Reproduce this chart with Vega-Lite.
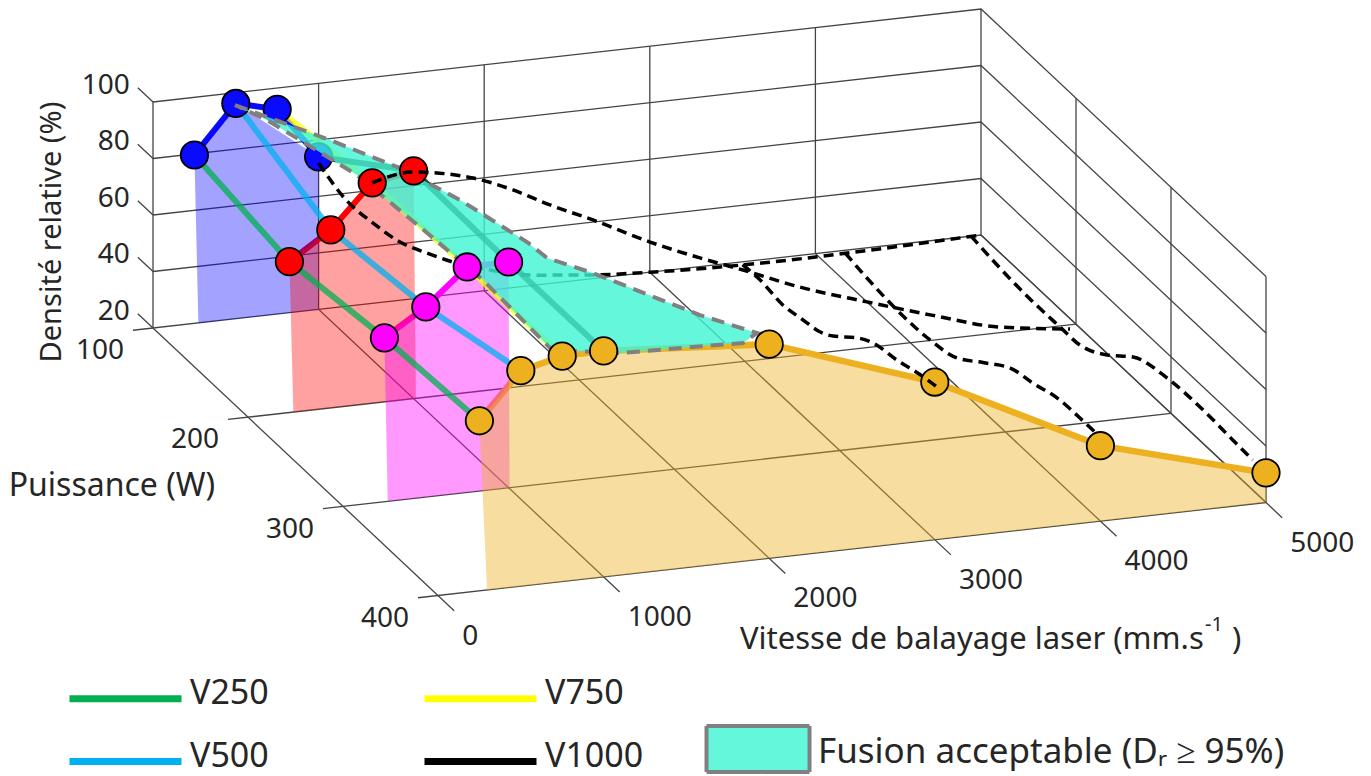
{"$schema":"https://vega.github.io/schema/vega-lite/v6.json","width":1371,"height":776,"autosize":"none","padding":0,"background":"white",
"data":{"values":[
{"g":"grille","s":"z20","V":-121,"P":100,"D":20},{"g":"grille","s":"z20","V":5000,"P":100,"D":20},{"g":"grille","s":"z20","V":5000,"P":400,"D":20},
{"g":"grille","s":"z40","V":0,"P":100,"D":40},{"g":"grille","s":"z40","V":5000,"P":100,"D":40},{"g":"grille","s":"z40","V":5000,"P":400,"D":40},
{"g":"grille","s":"z60","V":0,"P":100,"D":60},{"g":"grille","s":"z60","V":5000,"P":100,"D":60},{"g":"grille","s":"z60","V":5000,"P":400,"D":60},
{"g":"grille","s":"z80","V":0,"P":100,"D":80},{"g":"grille","s":"z80","V":5000,"P":100,"D":80},{"g":"grille","s":"z80","V":5000,"P":400,"D":80},
{"g":"grille","s":"z100","V":0,"P":100,"D":100},{"g":"grille","s":"z100","V":5000,"P":100,"D":100},{"g":"grille","s":"z100","V":5000,"P":400,"D":100},
{"g":"grille","s":"t40","V":0,"P":84,"D":40},{"g":"grille","s":"t40","V":0,"P":100,"D":40},
{"g":"grille","s":"t60","V":0,"P":84,"D":60},{"g":"grille","s":"t60","V":0,"P":100,"D":60},
{"g":"grille","s":"t80","V":0,"P":84,"D":80},{"g":"grille","s":"t80","V":0,"P":100,"D":80},
{"g":"grille","s":"t100","V":0,"P":84,"D":100},{"g":"grille","s":"t100","V":0,"P":100,"D":100},
{"g":"grille","s":"a0","V":0,"P":100,"D":20},{"g":"grille","s":"a0","V":0,"P":100,"D":100},
{"g":"grille","s":"a1","V":1000,"P":100,"D":20},{"g":"grille","s":"a1","V":1000,"P":100,"D":100},
{"g":"grille","s":"a2","V":2000,"P":100,"D":20},{"g":"grille","s":"a2","V":2000,"P":100,"D":100},
{"g":"grille","s":"a3","V":3000,"P":100,"D":20},{"g":"grille","s":"a3","V":3000,"P":100,"D":100},
{"g":"grille","s":"a4","V":4000,"P":100,"D":20},{"g":"grille","s":"a4","V":4000,"P":100,"D":100},
{"g":"grille","s":"a5","V":5000,"P":100,"D":20},{"g":"grille","s":"a5","V":5000,"P":100,"D":100},
{"g":"grille","s":"b2","V":5000,"P":200,"D":20},{"g":"grille","s":"b2","V":5000,"P":200,"D":100},
{"g":"grille","s":"b3","V":5000,"P":300,"D":20},{"g":"grille","s":"b3","V":5000,"P":300,"D":100},
{"g":"grille","s":"b4","V":5000,"P":400,"D":20},{"g":"grille","s":"b4","V":5000,"P":400,"D":100},
{"g":"grille","s":"f0","V":0,"P":84,"D":20},{"g":"grille","s":"f0","V":0,"P":417,"D":20},
{"g":"grille","s":"f1","V":1000,"P":100,"D":20},{"g":"grille","s":"f1","V":1000,"P":417,"D":20},
{"g":"grille","s":"f2","V":2000,"P":100,"D":20},{"g":"grille","s":"f2","V":2000,"P":417,"D":20},
{"g":"grille","s":"f3","V":3000,"P":100,"D":20},{"g":"grille","s":"f3","V":3000,"P":417,"D":20},
{"g":"grille","s":"f4","V":4000,"P":100,"D":20},{"g":"grille","s":"f4","V":4000,"P":417,"D":20},
{"g":"grille","s":"f5","V":5000,"P":100,"D":20},{"g":"grille","s":"f5","V":5000,"P":417,"D":20},
{"g":"grille","s":"p2","V":-121,"P":200,"D":20},{"g":"grille","s":"p2","V":5000,"P":200,"D":20},
{"g":"grille","s":"p3","V":-121,"P":300,"D":20},{"g":"grille","s":"p3","V":5000,"P":300,"D":20},
{"g":"grille","s":"p4","V":-121,"P":400,"D":20},{"g":"grille","s":"p4","V":5000,"P":400,"D":20},

{"g":"mesure","vit":"V250","V":250,"P":100,"D":79.6},{"g":"mesure","vit":"V500","V":500,"P":100,"D":96.2},{"g":"mesure","vit":"V750","V":750,"P":100,"D":92.5},{"g":"mesure","vit":"V1000","V":1000,"P":100,"D":74},
{"g":"mesure","vit":"V250","V":250,"P":200,"D":73.4},{"g":"mesure","vit":"V500","V":500,"P":200,"D":83},{"g":"mesure","vit":"V750","V":750,"P":200,"D":98},{"g":"mesure","vit":"V1000","V":1000,"P":200,"D":100.6},
{"g":"mesure","vit":"V250","V":250,"P":300,"D":78},{"g":"mesure","vit":"V500","V":500,"P":300,"D":87.3},{"g":"mesure","vit":"V750","V":750,"P":300,"D":99.8},{"g":"mesure","vit":"V1000","V":1000,"P":300,"D":99.9},
{"g":"mesure","vit":"V250","V":250,"P":400,"D":80.2},{"g":"mesure","vit":"V500","V":500,"P":400,"D":96.3},{"g":"mesure","vit":"V750","V":750,"P":400,"D":99.8},{"g":"mesure","vit":"V1000","V":1000,"P":400,"D":100},
{"g":"mesure","V":2000,"P":400,"D":95.8},{"g":"mesure","V":3000,"P":400,"D":75.8},{"g":"mesure","V":4000,"P":400,"D":46.7},{"g":"mesure","V":5000,"P":400,"D":30.5},

{"g":"zb","i":1,"V":250,"P":100,"D":79.6},{"g":"zb","i":2,"V":500,"P":100,"D":96.2},{"g":"zb","i":3,"V":1000,"P":100,"D":74},{"g":"zb","i":4,"V":1000,"P":100,"D":20},{"g":"zb","i":5,"V":274,"P":100,"D":20},{"g":"zb","i":6,"V":250,"P":100,"D":79.6},
{"g":"zr","i":1,"V":250,"P":200,"D":73.4},{"g":"zr","i":2,"V":500,"P":200,"D":83},{"g":"zr","i":3,"V":750,"P":200,"D":98},{"g":"zr","i":4,"V":1000,"P":200,"D":100.6},{"g":"zr","i":5,"V":1014,"P":200,"D":20},{"g":"zr","i":6,"V":274,"P":200,"D":20},{"g":"zr","i":7,"V":250,"P":200,"D":73.4},
{"g":"zm","i":1,"V":250,"P":300,"D":78},{"g":"zm","i":2,"V":500,"P":300,"D":87.3},{"g":"zm","i":3,"V":750,"P":300,"D":99.8},{"g":"zm","i":4,"V":1000,"P":300,"D":99.9},{"g":"zm","i":5,"V":1006,"P":300,"D":20},{"g":"zm","i":6,"V":270,"P":300,"D":20},{"g":"zm","i":7,"V":250,"P":300,"D":78},
{"g":"zo","i":1,"V":250,"P":400,"D":80.2},{"g":"zo","i":2,"V":500,"P":400,"D":96.3},{"g":"zo","i":3,"V":750,"P":400,"D":99.8},{"g":"zo","i":4,"V":1000,"P":400,"D":100},{"g":"zo","i":5,"V":2000,"P":400,"D":95.8},{"g":"zo","i":6,"V":3000,"P":400,"D":75.8},{"g":"zo","i":7,"V":4000,"P":400,"D":46.7},{"g":"zo","i":8,"V":5000,"P":400,"D":30.5},{"g":"zo","i":9,"V":5000,"P":400,"D":20},{"g":"zo","i":10,"V":296,"P":400,"D":20},{"g":"zo","i":11,"V":250,"P":400,"D":80.2},

{"g":"fusion","i":1,"V":506,"P":98.1,"D":95},{"g":"fusion","i":2,"V":817,"P":143.9,"D":95},{"g":"fusion","i":3,"V":1034,"P":179.8,"D":95},{"g":"fusion","i":4,"V":1174,"P":218.6,"D":95},{"g":"fusion","i":5,"V":1294,"P":268.2,"D":95},{"g":"fusion","i":6,"V":1310,"P":286.5,"D":95},{"g":"fusion","i":7,"V":1471,"P":306.7,"D":95},{"g":"fusion","i":8,"V":1807,"P":360.8,"D":95},{"g":"fusion","i":9,"V":2011,"P":385.2,"D":95},{"g":"fusion","i":10,"V":1878,"P":393.6,"D":95},{"g":"fusion","i":11,"V":1157,"P":389.8,"D":95},{"g":"fusion","i":12,"V":808,"P":379.2,"D":95},{"g":"fusion","i":13,"V":838,"P":301.3,"D":95},{"g":"fusion","i":14,"V":803,"P":241.1,"D":95},{"g":"fusion","i":15,"V":762,"P":181.9,"D":95},{"g":"fusion","i":16,"V":655,"P":140.5,"D":95},{"g":"fusion","i":17,"V":592,"P":116.7,"D":95},{"g":"fusion","i":18,"V":506,"P":98.1,"D":95},

{"g":"p100","V":1000,"P":100,"D":71.8},{"g":"p100","V":1171,"P":100,"D":57.3},{"g":"p100","V":1329,"P":100,"D":48.4},{"g":"p100","V":1492,"P":100,"D":40.6},{"g":"p100","V":1655,"P":100,"D":35.6},{"g":"p100","V":1812,"P":100,"D":31.4},{"g":"p100","V":2035,"P":100,"D":27.1},{"g":"p100","V":2295,"P":100,"D":23.6},{"g":"p100","V":2657,"P":100,"D":21.3},{"g":"p100","V":3000,"P":100,"D":20},{"g":"p100","V":5000,"P":100,"D":20},

{"g":"tirets","s":"p200","V":750,"P":200,"D":98},{"g":"tirets","s":"p200","V":1000,"P":200,"D":100.2},{"g":"tirets","s":"p200","V":1359,"P":200,"D":95.7},{"g":"tirets","s":"p200","V":1600,"P":200,"D":89.9},{"g":"tirets","s":"p200","V":1824,"P":200,"D":83.1},{"g":"tirets","s":"p200","V":2083,"P":200,"D":76.1},{"g":"tirets","s":"p200","V":2428,"P":200,"D":66},{"g":"tirets","s":"p200","V":2729,"P":200,"D":58.4},{"g":"tirets","s":"p200","V":2989,"P":200,"D":52.4},{"g":"tirets","s":"p200","V":3333,"P":200,"D":44.1},{"g":"tirets","s":"p200","V":3738,"P":200,"D":36.2},{"g":"tirets","s":"p200","V":4136,"P":200,"D":28.8},{"g":"tirets","s":"p200","V":4541,"P":200,"D":22},{"g":"tirets","s":"p200","V":4964,"P":200,"D":18.5},

{"g":"tirets","s":"v3000","V":3560,"P":100,"D":19},{"g":"tirets","s":"v3000","V":3000,"P":216,"D":53.9},{"g":"tirets","s":"v3000","V":3000,"P":240,"D":52.6},{"g":"tirets","s":"v3000","V":3000,"P":261,"D":54},{"g":"tirets","s":"v3000","V":3000,"P":279,"D":55.4},{"g":"tirets","s":"v3000","V":3000,"P":293,"D":58.3},{"g":"tirets","s":"v3000","V":3000,"P":318,"D":65.6},{"g":"tirets","s":"v3000","V":3000,"P":335,"D":69.1},{"g":"tirets","s":"v3000","V":3000,"P":360,"D":71},{"g":"tirets","s":"v3000","V":3000,"P":384,"D":73.5},{"g":"tirets","s":"v3000","V":3000,"P":402,"D":74.8},

{"g":"tirets","s":"v4000","V":4180,"P":100,"D":19},{"g":"tirets","s":"v4000","V":4000,"P":154,"D":28.5},{"g":"tirets","s":"v4000","V":4000,"P":189,"D":27.1},{"g":"tirets","s":"v4000","V":4000,"P":220.6,"D":27.5},{"g":"tirets","s":"v4000","V":4000,"P":249,"D":30.1},{"g":"tirets","s":"v4000","V":4000,"P":276.4,"D":37.1},{"g":"tirets","s":"v4000","V":4000,"P":305,"D":44.2},{"g":"tirets","s":"v4000","V":4000,"P":329,"D":46.4},{"g":"tirets","s":"v4000","V":4000,"P":354,"D":49.2},{"g":"tirets","s":"v4000","V":4000,"P":378.5,"D":49.7},{"g":"tirets","s":"v4000","V":4000,"P":394.4,"D":49.7},

{"g":"tirets","s":"v5000","V":4940,"P":100,"D":20},{"g":"tirets","s":"v5000","V":5000,"P":120,"D":14.6},{"g":"tirets","s":"v5000","V":5000,"P":154.7,"D":13.6},{"g":"tirets","s":"v5000","V":5000,"P":183,"D":13.7},{"g":"tirets","s":"v5000","V":5000,"P":204,"D":13.9},{"g":"tirets","s":"v5000","V":5000,"P":232.6,"D":19.4},{"g":"tirets","s":"v5000","V":5000,"P":260,"D":27.3},{"g":"tirets","s":"v5000","V":5000,"P":296,"D":31.2},{"g":"tirets","s":"v5000","V":5000,"P":330,"D":31.9},{"g":"tirets","s":"v5000","V":5000,"P":365,"D":31.1},{"g":"tirets","s":"v5000","V":5000,"P":386,"D":30.6},

{"g":"tz","lab":"20","V":0,"P":84,"D":20},{"g":"tz","lab":"40","V":0,"P":84,"D":40},{"g":"tz","lab":"60","V":0,"P":84,"D":60},{"g":"tz","lab":"80","V":0,"P":84,"D":80},{"g":"tz","lab":"100","V":0,"P":84,"D":100},
{"g":"tp","lab":"100","V":-121,"P":100,"D":20},{"g":"tp","lab":"200","V":-121,"P":200,"D":20},{"g":"tp","lab":"300","V":-121,"P":300,"D":20},{"g":"tp","lab":"400","V":-121,"P":400,"D":20},
{"g":"tv","lab":"0","V":0,"P":417,"D":20},{"g":"tv","lab":"1000","V":1000,"P":417,"D":20},{"g":"tv","lab":"2000","V":2000,"P":417,"D":20},{"g":"tv","lab":"3000","V":3000,"P":417,"D":20},{"g":"tv","lab":"4000","V":4000,"P":417,"D":20},{"g":"tv","lab":"5000","V":5000,"P":417,"D":20},
{"g":"titreP","lab":"Puissance (W)","V":-1129,"P":253.6,"D":20},
{"g":"titreV","lab":"Vitesse de balayage laser (mm.s","V":1373,"P":478.5,"D":20},
{"g":"titreV","lab":")","V":4027,"P":533.9,"D":20},
{"g":"titreS","lab":"-1","V":3967,"P":515.8,"D":20},
{"g":"titreD","lab":"Densité relative (%)","V":7,"P":-7.5,"D":20}
]},
"transform":[
{"calculate":"153+828*datum.V/5000+285*(datum.P-100)/300","as":"px"},
{"calculate":"328-93*datum.V/5000+267.5*(datum.P-100)/300-2.825*(datum.D-20)","as":"py"}
],
"encoding":{
"x":{"field":"px","type":"quantitative","scale":{"domain":[0,1371],"nice":false,"zero":false},"axis":null},
"y":{"field":"py","type":"quantitative","scale":{"domain":[0,776],"reverse":true,"nice":false,"zero":false},"axis":null}
},
"layer":[
{"transform":[{"filter":"datum.g=='grille'"}],"mark":{"type":"line","stroke":"#444444","strokeWidth":1.3},"encoding":{"detail":{"field":"s"}}},
{"transform":[{"filter":"datum.g=='mesure' && datum.P==100"}],"mark":{"type":"line","strokeWidth":6,"stroke":"#0A0AFF"}},
{"transform":[{"filter":"datum.g=='mesure' && datum.P==200"}],"mark":{"type":"line","strokeWidth":6,"stroke":"#FF0000"}},
{"transform":[{"filter":"datum.g=='mesure' && datum.P==300"}],"mark":{"type":"line","strokeWidth":6,"stroke":"#FF00FF"}},
{"transform":[{"filter":"datum.g=='mesure' && datum.P==400"}],"mark":{"type":"line","strokeWidth":6.5,"stroke":"#EDB120"}},
{"transform":[{"filter":"datum.g=='zb'"}],"mark":{"type":"line","fill":"#0000FF","fillOpacity":0.36,"stroke":"#0000FF","strokeOpacity":0},"encoding":{"order":{"field":"i"}}},
{"transform":[{"filter":"datum.g=='zr'"}],"mark":{"type":"line","fill":"#FF0000","fillOpacity":0.37,"stroke":"#FF0000","strokeOpacity":0},"encoding":{"order":{"field":"i"}}},
{"transform":[{"filter":"datum.g=='zm'"}],"mark":{"type":"line","fill":"#FF00FF","fillOpacity":0.4,"stroke":"#FF00FF","strokeOpacity":0},"encoding":{"order":{"field":"i"}}},
{"transform":[{"filter":"datum.g=='zo'"}],"mark":{"type":"line","fill":"#EDB120","fillOpacity":0.43,"stroke":"#EDB120","strokeOpacity":0},"encoding":{"order":{"field":"i"}}},
{"transform":[{"filter":"datum.g=='mesure' && datum.vit"}],"mark":{"type":"line","strokeWidth":6,"opacity":0.75},"encoding":{"color":{"field":"vit","type":"nominal","scale":{"domain":["V250","V500","V750","V1000"],"range":["#00B050","#00B0F0","#FFFF00","#000000"]},"legend":{"title":null,"orient":"none","legendX":108,"legendY":681,"columns":2,"padding":0,"symbolType":"M-4,0H4","symbolSize":784,"symbolStrokeWidth":7,"symbolOpacity":1,"labelOffset":47,"labelFontSize":34,"labelFont":"Noto Sans","labelColor":"#262626","columnPadding":141,"rowPadding":26,"encode":{"labels":{"update":{"dy":{"value":-5}}}}}}}},
{"transform":[{"filter":"datum.g=='mesure' && datum.P==100"}],"mark":{"type":"point","filled":true,"size":750,"fill":"#0A0AFF","fillOpacity":1,"stroke":"#000000","strokeWidth":1.8,"opacity":1}},
{"transform":[{"filter":"datum.g=='p100'"}],"mark":{"type":"line","stroke":"#000000","strokeWidth":3.5,"strokeDash":[10,6],"interpolate":"monotone"}},
{"transform":[{"filter":"datum.g=='fusion'"}],"mark":{"type":"line","fillOpacity":1,"stroke":"#808080","strokeWidth":4,"strokeDash":[13,8]},"encoding":{"order":{"field":"i"},"fill":{"datum":"Fusion acceptable (Dᵣ ≥ 95%)","scale":{"range":["rgba(61,245,211,0.8)"]},"legend":{"title":null,"orient":"none","legendX":706,"legendY":697,"padding":0,"symbolType":"M-1.03,-0.46H1.03V0.46H-1.03Z","symbolSize":10000,"symbolStrokeColor":"#808080","symbolStrokeWidth":4,"symbolDash":[1,0],"symbolOpacity":1,"labelOffset":8,"labelFontSize":35,"labelLimit":700,"labelFont":"Noto Sans","labelColor":"#262626","encode":{"labels":{"update":{"dy":{"value":3}}}}}}}},
{"transform":[{"filter":"datum.g=='mesure' && datum.P==200"}],"mark":{"type":"point","filled":true,"size":750,"fill":"#FF0000","fillOpacity":1,"stroke":"#000000","strokeWidth":1.8,"opacity":1}},
{"transform":[{"filter":"datum.g=='mesure' && datum.P==300"}],"mark":{"type":"point","filled":true,"size":750,"fill":"#FF00FF","fillOpacity":1,"stroke":"#000000","strokeWidth":1.8,"opacity":1}},
{"transform":[{"filter":"datum.g=='mesure' && datum.P==400"}],"mark":{"type":"point","filled":true,"size":750,"fill":"#EDB120","fillOpacity":1,"stroke":"#000000","strokeWidth":1.8,"opacity":1}},
{"transform":[{"filter":"datum.g=='tirets'"}],"mark":{"type":"line","stroke":"#000000","strokeWidth":3.5,"strokeDash":[10,6],"interpolate":"monotone"},"encoding":{"detail":{"field":"s"}}},
{"transform":[{"filter":"datum.g=='tz'"}],"mark":{"type":"text","font":"Noto Sans","fontSize":28,"color":"#262626","align":"right","baseline":"middle","dx":-8,"dy":-2},"encoding":{"text":{"field":"lab"}}},
{"transform":[{"filter":"datum.g=='tp'"}],"mark":{"type":"text","font":"Noto Sans","fontSize":28,"color":"#262626","align":"right","baseline":"middle","dx":-9,"dy":21},"encoding":{"text":{"field":"lab"}}},
{"transform":[{"filter":"datum.g=='tv'"}],"mark":{"type":"text","font":"Noto Sans","fontSize":28,"color":"#262626","align":"left","baseline":"middle","dx":8,"dy":26},"encoding":{"text":{"field":"lab"}}},
{"transform":[{"filter":"datum.g=='titreP'"}],"mark":{"type":"text","font":"Noto Sans","fontSize":32,"color":"#262626","align":"center","baseline":"middle"},"encoding":{"text":{"field":"lab"}}},
{"transform":[{"filter":"datum.g=='titreV'"}],"mark":{"type":"text","font":"Noto Sans","fontSize":31,"color":"#262626","align":"left","baseline":"middle"},"encoding":{"text":{"field":"lab"}}},
{"transform":[{"filter":"datum.g=='titreS'"}],"mark":{"type":"text","font":"Noto Sans","fontSize":20,"color":"#262626","align":"left","baseline":"middle"},"encoding":{"text":{"field":"lab"}}},
{"transform":[{"filter":"datum.g=='titreD'"}],"mark":{"type":"text","font":"Noto Sans","fontSize":29,"color":"#262626","align":"center","baseline":"middle","angle":270},"encoding":{"text":{"field":"lab"}}}
],
"resolve":{"scale":{"color":"independent","fill":"independent"}},
"config":{"view":{"stroke":null}}
}
